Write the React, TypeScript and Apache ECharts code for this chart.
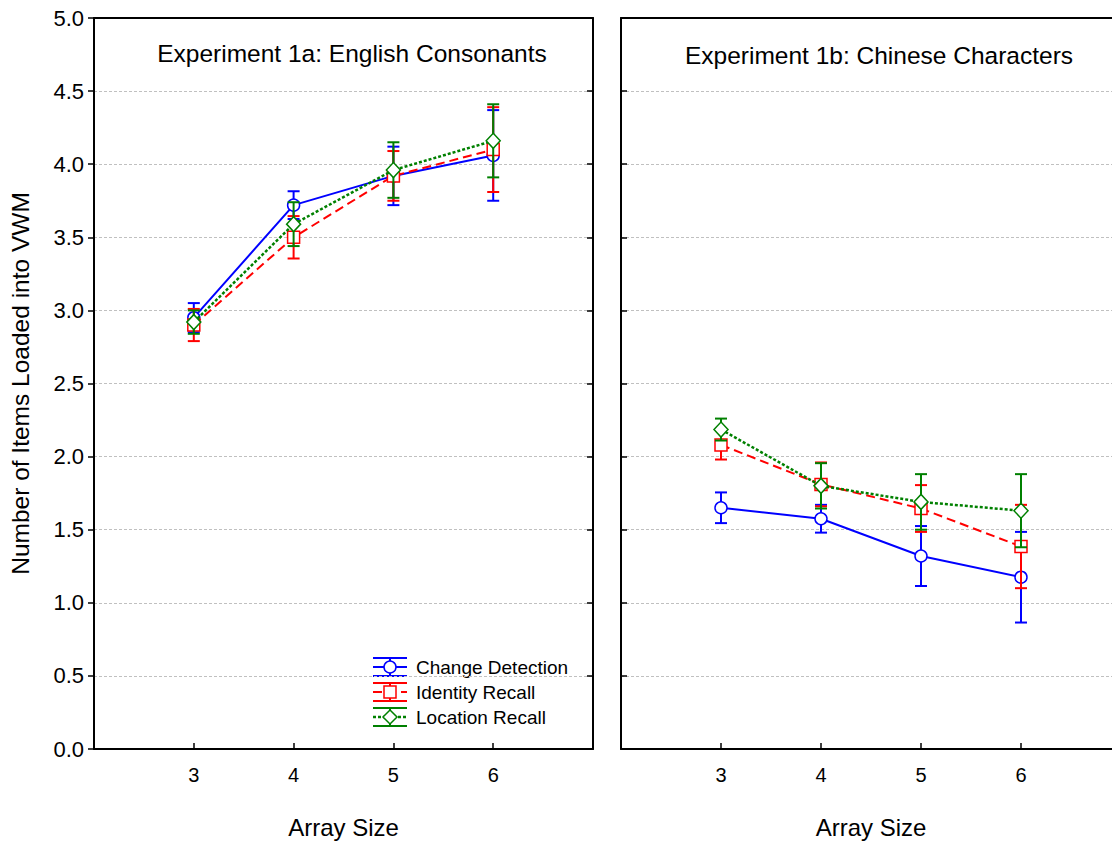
import React, { useEffect, useRef } from "react";
import * as echarts from "echarts";

const arraySizes = [3, 4, 5, 6];

// Experiment 1a: English Consonants
const cd1 = [2.95, 3.72, 3.92, 4.06];
const cdErr1 = [0.1, 0.095, 0.2, 0.31];
const ir1 = [2.9, 3.5, 3.92, 4.1];
const irErr1 = [0.11, 0.145, 0.17, 0.29];
const lr1 = [2.92, 3.59, 3.96, 4.16];
const lrErr1 = [0.08, 0.15, 0.19, 0.25];

// Experiment 1b: Chinese Characters
const cd2 = [1.65, 1.575, 1.32, 1.175];
const cdErr2 = [0.105, 0.095, 0.205, 0.31];
const ir2 = [2.08, 1.81, 1.645, 1.385];
const irErr2 = [0.1, 0.15, 0.16, 0.285];
const lr2 = [2.185, 1.8, 1.69, 1.63];
const lrErr2 = [0.075, 0.155, 0.19, 0.25];

const yTicks = [0, 0.5, 1, 1.5, 2, 2.5, 3, 3.5, 4, 4.5, 5];
const seriesNames = ["Change Detection", "Identity Recall", "Location Recall"];
const panelTitles = ["Experiment 1a: English Consonants", "Experiment 1b: Chinese Characters"];

const BLUE = "#0000ff";
const RED = "#ff0000";
const GREEN = "#008000";
const FONT = "'Liberation Sans', Arial, sans-serif";
const NARROW = "'Liberation Sans Narrow', 'Liberation Sans', Arial, sans-serif";

type Style = { color: string; dash: any; width: number; symbol: string; size: any };
const styles: Style[] = [
  { color: BLUE, dash: "solid", width: 2, symbol: "circle", size: 12 },
  { color: RED, dash: [9, 5], width: 2, symbol: "rect", size: 12 },
  { color: GREEN, dash: [3, 2], width: 2.5, symbol: "diamond", size: [14, 15] },
];

function errorSeries(means: number[], errs: number[], color: string, axis: number, z: number) {
  return {
    type: "custom",
    xAxisIndex: axis,
    yAxisIndex: axis * 2,
    z,
    silent: true,
    encode: { x: 0, y: [1, 2] },
    data: arraySizes.map((x, i) => [x, means[i] - errs[i], means[i] + errs[i]]),
    renderItem: (params: any, api: any) => {
      const x = api.value(0);
      const top = api.coord([x, api.value(2)]);
      const bot = api.coord([x, api.value(1)]);
      const hw = 6;
      const st = { stroke: color, lineWidth: 2 };
      return {
        type: "group",
        children: [
          { type: "line", shape: { x1: top[0], y1: top[1], x2: bot[0], y2: bot[1] }, style: st },
          { type: "line", shape: { x1: top[0] - hw, y1: top[1], x2: top[0] + hw, y2: top[1] }, style: st },
          { type: "line", shape: { x1: bot[0] - hw, y1: bot[1], x2: bot[0] + hw, y2: bot[1] }, style: st },
        ],
      };
    },
  };
}

function lineSeries(name: string, means: number[], s: Style, axis: number, z: number) {
  return {
    type: "line",
    name,
    xAxisIndex: axis,
    yAxisIndex: axis * 2,
    z,
    data: arraySizes.map((x, i) => [x, means[i]]),
    symbol: s.symbol,
    symbolSize: s.size,
    showAllSymbol: true,
    lineStyle: { color: s.color, width: s.width, type: s.dash },
    itemStyle: { color: "#ffffff", borderColor: s.color, borderWidth: 1.5 },
  };
}

export default function App() {
  const ref = useRef<HTMLDivElement>(null);
  useEffect(() => {
    if (!ref.current) return;
    const chart = echarts.init(ref.current, undefined, { renderer: "svg" });

    const grids = [
      { left: 94, top: 18, width: 499, height: 731 },
      { left: 621, top: 18, width: 500, height: 731 },
    ];

    const xAxes: any[] = [];
    const yAxes: any[] = [];
    [0, 1].forEach((g) => {
      xAxes.push({
        type: "value",
        gridIndex: g,
        min: 2,
        max: 7,
        interval: 1,
        position: "bottom",
        name: "Array Size",
        nameLocation: "middle",
        nameGap: 66,
        nameTextStyle: { fontFamily: FONT, fontSize: 24, color: "#000" },
        axisLine: { show: true, onZero: false, lineStyle: { color: "#000", width: 2 } },
        axisTick: { show: true, inside: true, length: 6, lineStyle: { color: "#000", width: 1.5 } },
        axisLabel: {
          margin: 16,
          fontFamily: FONT,
          fontSize: 20,
          color: "#000",
          formatter: (v: number) => (arraySizes.indexOf(v) >= 0 ? String(v) : ""),
        },
        splitLine: { show: false },
      });
      // y-axis on left
      yAxes.push({
        type: "value",
        gridIndex: g,
        min: 0,
        max: 5,
        interval: 0.5,
        position: "left",
        name: g === 0 ? "Number of Items Loaded into VWM" : "",
        nameLocation: "middle",
        nameGap: 61,
        nameTextStyle: { fontFamily: NARROW, fontSize: 24.5, color: "#000" },
        axisLine: { show: true, onZero: false, lineStyle: { color: "#000", width: 2 } },
        axisTick: { show: true, inside: g === 1, length: 6, lineStyle: { color: "#000", width: 1.5 } },
        axisLabel: {
          show: g === 0,
          margin: 10,
          fontFamily: FONT,
          fontSize: 22,
          color: "#000",
          formatter: (v: number) => (yTicks.indexOf(v) >= 0 ? v.toFixed(1) : ""),
        },
        splitLine: { show: true, lineStyle: { color: "#c0c0c0", type: [3, 2], width: 1 } },
      });
      // y-axis on right (frame)
      yAxes.push({
        type: "value",
        gridIndex: g,
        show: g === 0,
        min: 0,
        max: 5,
        interval: 0.5,
        position: "right",
        axisLine: { show: true, onZero: false, lineStyle: { color: "#000", width: 2 } },
        axisTick: { show: g === 0, inside: true, length: 6, lineStyle: { color: "#000", width: 1.5 } },
        axisLabel: { show: false },
        splitLine: { show: false },
      });
    });
    // top frame axes
    [0, 1].forEach((g) => {
      xAxes.push({
        type: "value",
        gridIndex: g,
        min: 2,
        max: 7,
        interval: 1,
        position: "top",
        axisLine: { show: true, onZero: false, lineStyle: { color: "#000", width: 2 } },
        axisTick: { show: false },
        axisLabel: { show: false },
        splitLine: { show: false },
      });
    });

    const panels = [
      { means: [cd1, ir1, lr1], errs: [cdErr1, irErr1, lrErr1] },
      { means: [cd2, ir2, lr2], errs: [cdErr2, irErr2, lrErr2] },
    ];
    const series: any[] = [];
    panels.forEach((p, g) => {
      [0, 1, 2].forEach((k) => {
        series.push(errorSeries(p.means[k], p.errs[k], styles[k].color, g, 2 + k * 2));
        series.push(lineSeries(seriesNames[k], p.means[k], styles[k], g, 3 + k * 2));
      });
    });

    // legend drawn with graphic elements
    const legendEls: any[] = [];
    styles.forEach((s, i) => {
      const y0 = 667 + i * 25;
      const x0 = 373;
      const x1 = 407;
      const cx = 390;
      const st = { stroke: s.color, lineWidth: 2 };
      legendEls.push({ type: "line", shape: { x1: x0, y1: y0 - 9, x2: x1, y2: y0 - 9 }, style: st });
      legendEls.push({ type: "line", shape: { x1: x0, y1: y0 + 9, x2: x1, y2: y0 + 9 }, style: st });
      legendEls.push({ type: "line", shape: { x1: cx, y1: y0 - 9, x2: cx, y2: y0 + 9 }, style: st });
      legendEls.push({
        type: "line",
        shape: { x1: x0, y1: y0, x2: x1, y2: y0 },
        style: { stroke: s.color, lineWidth: s.width, lineDash: s.dash === "solid" ? null : s.dash },
      });
      const mk = { fill: "#fff", stroke: s.color, lineWidth: 1.5 };
      if (s.symbol === "circle") legendEls.push({ type: "circle", shape: { cx, cy: y0, r: 6 }, style: mk });
      else if (s.symbol === "rect")
        legendEls.push({ type: "rect", shape: { x: cx - 6, y: y0 - 6, width: 12, height: 12 }, style: mk });
      else
        legendEls.push({
          type: "polygon",
          shape: { points: [[cx, y0 - 7], [cx + 7, y0], [cx, y0 + 7], [cx - 7, y0]] },
          style: mk,
        });
      legendEls.push({
        type: "text",
        x: 416,
        y: y0,
        style: {
          text: seriesNames[i],
          fill: "#000",
          font: `19px ${FONT}`,
          verticalAlign: "middle",
          textAlign: "left",
        },
      });
    });

    chart.setOption({
      animation: false,
      backgroundColor: "#ffffff",
      title: [
        {
          text: panelTitles[0],
          left: 347,
          top: 36,
          textAlign: "center",
          textStyle: { fontFamily: FONT, fontSize: 24.5, fontWeight: "normal", color: "#000" },
        },
        {
          text: panelTitles[1],
          left: 874,
          top: 38,
          textAlign: "center",
          textStyle: { fontFamily: FONT, fontSize: 24.5, fontWeight: "normal", color: "#000" },
        },
      ],
      grid: grids,
      xAxis: xAxes,
      yAxis: yAxes,
      series,
      graphic: [{ type: "group", z: 100, children: legendEls }],
    });
    return () => chart.dispose();
  }, []);
  return (
    <div
      style={{
        position: "fixed",
        left: 0,
        top: 0,
        width: 1112,
        height: 848,
        overflow: "hidden",
        background: "#fff",
      }}
    >
      <div ref={ref} style={{ width: 1140, height: 848 }} />
    </div>
  );
}
